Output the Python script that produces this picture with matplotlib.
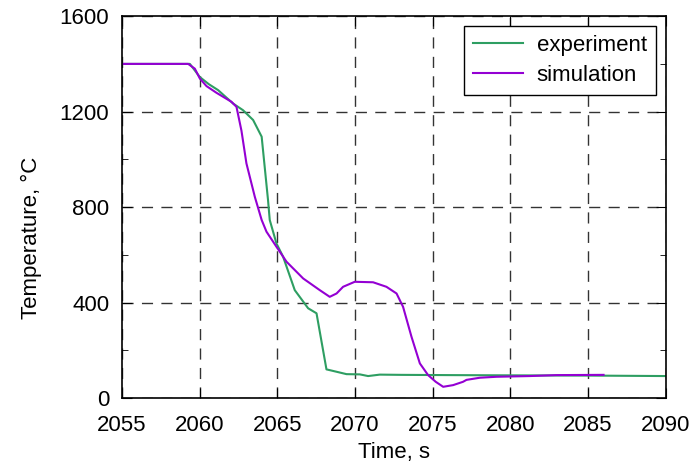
import numpy as np
import matplotlib
matplotlib.use("Agg")
import matplotlib.pyplot as plt
from matplotlib.ticker import MultipleLocator

plt.rcParams['font.family'] = ['Liberation Sans', 'DejaVu Sans']

# experiment curve
t_exp = [2055, 2059.38, 2060.02, 2060.6, 2061.2, 2062.16, 2062.8, 2063.45, 2064.0, 2064.41,
         2064.52, 2064.95, 2065.38, 2066.13, 2066.99, 2067.53, 2068.17, 2068.82,
         2069.46, 2070.32, 2070.85, 2071.6, 2073.0, 2076.0, 2080.0, 2085.0, 2090.0]
T_exp = [1400, 1400, 1345, 1315, 1290, 1234, 1206, 1165, 1095, 829,
         746, 648, 592, 452, 376, 355, 120, 110,
         100, 99, 92, 98, 97, 96, 95, 94, 92]

# simulation curve
t_sim = [2055, 2059.27, 2059.7, 2060.02, 2060.45, 2061.09, 2062.06, 2062.38, 2062.7,
         2063.02, 2063.56, 2064.0, 2064.31, 2064.95, 2065.6, 2066.67, 2067.74, 2068.38,
         2068.82, 2069.24, 2069.99, 2071.17, 2072.03, 2072.68, 2073.1, 2073.64, 2074.18,
         2074.71, 2075.2, 2075.68, 2076.32, 2076.96, 2077.18, 2078.04, 2079.11, 2081.26,
         2082.97, 2086.0]
T_sim = [1400, 1400, 1380, 1339, 1307, 1279, 1241, 1220, 1120,
         983, 843, 746, 697, 634, 571, 501, 452, 424,
         438, 466, 487, 485, 466, 438, 382, 257, 145,
         96, 68, 47, 54, 68, 76, 85, 89, 92,
         96, 97]

fig = plt.figure(figsize=(7, 4.62), dpi=100)
ax = fig.add_axes([0.174, 0.1385, 0.777, 0.8265])

ax.plot(t_exp, T_exp, color='#2e9e62', lw=1.5, label='experiment')
ax.plot(t_sim, T_sim, color='#9400d3', lw=1.5, label='simulation')

ax.set_xlim(2055, 2090)
ax.set_ylim(0, 1600)
ax.xaxis.set_major_locator(MultipleLocator(5))
ax.yaxis.set_major_locator(MultipleLocator(400))
ax.yaxis.set_minor_locator(MultipleLocator(200))
ax.tick_params(which='both', direction='in', top=True, right=True, labelsize=16)
ax.tick_params(which='major', length=7)
ax.tick_params(which='minor', length=4)
ax.tick_params(axis='x', pad=12)
ax.tick_params(axis='y', pad=9)
ax.grid(True, which='major', color='black', ls=(0, (8, 6)), lw=1, alpha=0.8)
for s in ax.spines.values():
    s.set_linewidth(1.2)

ax.set_xlabel('Time, s', fontsize=16)
ax.set_ylabel('Temperature, °C', fontsize=16)
ax.xaxis.set_label_coords(0.5, -0.115)
ax.yaxis.set_label_coords(-0.147, 0.42)

leg = ax.legend(loc='upper right', fontsize=16, fancybox=False, framealpha=1,
                edgecolor='black', borderaxespad=0.45, handlelength=2.25,
                handletextpad=0.6, borderpad=0.4, labelspacing=0.4)
leg.get_frame().set_linewidth(1)

fig.savefig('out.png', dpi=100)
